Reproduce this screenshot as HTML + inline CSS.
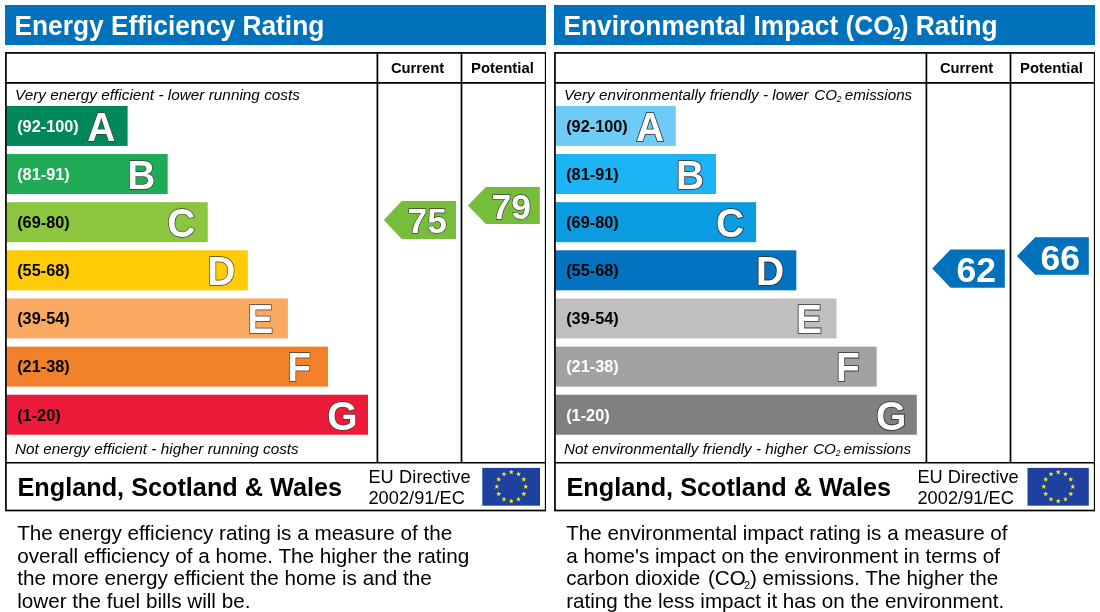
<!DOCTYPE html>
<html lang="en"><head><meta charset="utf-8"><title>Energy Performance Ratings</title>
<style>
html,body{margin:0;padding:0;background:#fff}
#root{position:relative;width:1100px;height:612px;overflow:hidden;background:#fff;font-family:"Liberation Sans", Arial, Helvetica, sans-serif;color:#000}
.panel{position:absolute;top:0;width:541px;height:612px}
.hdr{position:absolute;left:0;top:5px;width:541px;height:40px;background:#0072bc}
.g{position:absolute;left:0;top:0}
.t{position:absolute;line-height:1;white-space:nowrap;color:#000;font-variant-ligatures:none;font-kerning:normal}
.b{font-weight:bold}
.i{font-style:italic}
.w{color:#fff}
.L{color:#fff;-webkit-text-stroke:1.3px #3a3a3a;paint-order:stroke fill}
.N{color:#fff;-webkit-text-stroke:1.3px #3a3a3a;paint-order:stroke fill}
.N0{color:#fff}
.L2{color:#fff;-webkit-text-stroke:1.6px #2e2e2e;paint-order:stroke fill}
sub{vertical-align:baseline;position:relative;line-height:0}
.s1{font-size:58%;top:0.25em;margin:0 -1.35px 0 -1.15px}
.s2{font-size:56%;top:0.27em;margin:0 -1.1px 0 -0.3px}
.ic{margin-left:1.3px}
.s3{font-size:52%;top:0.4em;margin:0 -0.2px 0 -1.7px}
.pc{margin-left:1.9px}
</style></head><body>
<div id="root">
<div class="panel" style="left:5px">
<div class="hdr"></div>
<div class="t b w" style="left:9.50px;top:13.00px;font-size:26.3px;transform:scaleY(1.03);transform-origin:0 22px;">Energy Efficiency Rating</div>
<svg class="g" width="541" height="612" viewBox="0 0 541 612"><rect x="1.5" y="105.90" width="121.10" height="40" fill="#00875a"/><rect x="1.5" y="154.04" width="161.17" height="40" fill="#1fab55"/><rect x="1.5" y="202.18" width="201.24" height="40" fill="#8cc63f"/><rect x="1.5" y="250.32" width="241.31" height="40" fill="#ffcb05"/><rect x="1.5" y="298.46" width="281.38" height="40" fill="#faa961"/><rect x="1.5" y="346.60" width="321.45" height="40" fill="#f3812a"/><rect x="1.5" y="394.74" width="361.52" height="40" fill="#ed1b3a"/><polygon points="378.90,219.90 396.70,200.90 451.00,200.90 451.00,239.00 396.70,239.00" fill="#77bd3c"/><polygon points="462.85,205.50 480.80,186.90 534.80,186.90 534.80,224.10 480.80,224.10" fill="#77bd3c"/><g fill="none" stroke="#000" stroke-width="1.7"><rect x="0.95" y="52.9" width="539.75" height="457.6"/><line x1="0" y1="82.85" x2="541" y2="82.85"/><line x1="0" y1="462.75" x2="541" y2="462.75"/><line x1="372.4" y1="52" x2="372.4" y2="462.75"/><line x1="456.5" y1="52" x2="456.5" y2="462.75"/></g><rect x="477.3" y="467.9" width="57.7" height="37.8" fill="#1e41a0"/><polygon points="506.25,469.50 506.87,471.35 508.82,471.37 507.25,472.52 507.84,474.38 506.25,473.25 504.66,474.38 505.25,472.52 503.68,471.37 505.63,471.35" fill="#fff200"/><polygon points="513.50,471.44 514.12,473.29 516.07,473.31 514.50,474.47 515.09,476.33 513.50,475.19 511.91,476.33 512.50,474.47 510.93,473.31 512.88,473.29" fill="#fff200"/><polygon points="518.81,476.75 519.42,478.60 521.38,478.62 519.81,479.77 520.39,481.63 518.81,480.50 517.22,481.63 517.81,479.77 516.24,478.62 518.19,478.60" fill="#fff200"/><polygon points="520.75,484.00 521.37,485.85 523.32,485.87 521.75,487.02 522.34,488.88 520.75,487.75 519.16,488.88 519.75,487.02 518.18,485.87 520.13,485.85" fill="#fff200"/><polygon points="518.81,491.25 519.42,493.10 521.38,493.12 519.81,494.27 520.39,496.13 518.81,495.00 517.22,496.13 517.81,494.27 516.24,493.12 518.19,493.10" fill="#fff200"/><polygon points="513.50,496.56 514.12,498.41 516.07,498.42 514.50,499.58 515.09,501.44 513.50,500.31 511.91,501.44 512.50,499.58 510.93,498.42 512.88,498.41" fill="#fff200"/><polygon points="506.25,498.50 506.87,500.35 508.82,500.37 507.25,501.52 507.84,503.38 506.25,502.25 504.66,503.38 505.25,501.52 503.68,500.37 505.63,500.35" fill="#fff200"/><polygon points="499.00,496.56 499.62,498.41 501.57,498.42 500.00,499.58 500.59,501.44 499.00,500.31 497.41,501.44 498.00,499.58 496.43,498.42 498.38,498.41" fill="#fff200"/><polygon points="493.69,491.25 494.31,493.10 496.26,493.12 494.69,494.27 495.28,496.13 493.69,495.00 492.11,496.13 492.69,494.27 491.12,493.12 493.08,493.10" fill="#fff200"/><polygon points="491.75,484.00 492.37,485.85 494.32,485.87 492.75,487.02 493.34,488.88 491.75,487.75 490.16,488.88 490.75,487.02 489.18,485.87 491.13,485.85" fill="#fff200"/><polygon points="493.69,476.75 494.31,478.60 496.26,478.62 494.69,479.77 495.28,481.63 493.69,480.50 492.11,481.63 492.69,479.77 491.12,478.62 493.08,478.60" fill="#fff200"/><polygon points="499.00,471.44 499.62,473.29 501.57,473.31 500.00,474.47 500.59,476.33 499.00,475.19 497.41,476.33 498.00,474.47 496.43,473.31 498.38,473.29" fill="#fff200"/></svg>
<div class="t b" style="left:385.90px;top:61.00px;font-size:14.75px;transform:scaleY(1.03);transform-origin:0 12px;">Current</div>
<div class="t b" style="left:466.00px;top:61.00px;font-size:14.9px;transform:scaleY(1.03);transform-origin:0 12px;">Potential</div>
<div class="t i" style="left:10.00px;top:87.00px;font-size:15.3px;word-spacing:0.1px;">Very energy efficient - lower running costs</div>
<div class="t i" style="left:10.00px;top:441.00px;font-size:15.3px;word-spacing:0.1px;">Not energy efficient - higher running costs</div>
<div class="t b" style="left:12.20px;top:118.00px;font-size:16.3px;color:#fff">(92-100)</div>
<div class="t b L" style="left:82.20px;top:108.00px;font-size:39px;transform:scaleY(1.046);transform-origin:0 33px;">A</div>
<div class="t b" style="left:12.20px;top:166.00px;font-size:16.3px;color:#fff">(81-91)</div>
<div class="t b L" style="left:122.20px;top:156.00px;font-size:39px;transform:scaleY(1.046);transform-origin:0 33px;">B</div>
<div class="t b" style="left:12.20px;top:214.00px;font-size:16.3px;color:#000">(69-80)</div>
<div class="t b L" style="left:162.20px;top:204.00px;font-size:39px;transform:scaleY(1.046);transform-origin:0 33px;">C</div>
<div class="t b" style="left:12.20px;top:262.00px;font-size:16.3px;color:#000">(55-68)</div>
<div class="t b L" style="left:202.20px;top:252.00px;font-size:39px;transform:scaleY(1.046);transform-origin:0 33px;">D</div>
<div class="t b" style="left:12.20px;top:310.00px;font-size:16.3px;color:#000">(39-54)</div>
<div class="t b L" style="left:242.20px;top:300.00px;font-size:39px;transform:scaleY(1.046);transform-origin:0 33px;">E</div>
<div class="t b" style="left:12.20px;top:358.00px;font-size:16.3px;color:#000">(21-38)</div>
<div class="t b L" style="left:282.20px;top:348.00px;font-size:39px;transform:scaleY(1.046);transform-origin:0 33px;">F</div>
<div class="t b" style="left:12.20px;top:407.00px;font-size:16.3px;color:#000">(1-20)</div>
<div class="t b L" style="left:322.20px;top:397.00px;font-size:39px;transform:scaleY(1.046);transform-origin:0 33px;">G</div>
<div class="t b N" style="left:402.40px;top:204.00px;font-size:35.5px;transform:scaleY(0.97);transform-origin:0 29px;">75</div>
<div class="t b N" style="left:486.60px;top:190.00px;font-size:35.5px;transform:scaleY(0.97);transform-origin:0 29px;">79</div>
<div class="t b" style="left:12.50px;top:475.00px;font-size:25.25px;">England, Scotland &amp; Wales</div>
<div class="t " style="left:363.40px;top:468.00px;font-size:18.2px;letter-spacing:0.1px;">EU Directive</div>
<div class="t " style="left:363.40px;top:489.00px;font-size:18.2px;letter-spacing:0.05px;">2002/91/EC</div>
<div class="t " style="left:12.20px;top:523.00px;font-size:20.68px;">The energy efficiency rating is a measure of the</div>
<div class="t " style="left:12.20px;top:546.00px;font-size:20.68px;">overall efficiency of a home. The higher the rating</div>
<div class="t " style="left:12.20px;top:568.00px;font-size:20.68px;">the more energy efficient the home is and the</div>
<div class="t " style="left:12.20px;top:591.00px;font-size:20.68px;">lower the fuel bills will be.</div>
</div>
<div class="panel" style="left:554px">
<div class="hdr"></div>
<div class="t b w" style="left:9.50px;top:13.00px;font-size:26.3px;transform:scaleY(1.03);transform-origin:0 22px;">Environmental Impact (CO<sub class="s1">2</sub>) Rating</div>
<svg class="g" width="541" height="612" viewBox="0 0 541 612"><rect x="1.5" y="105.90" width="120.30" height="40" fill="#6ecbf6"/><rect x="1.5" y="154.04" width="160.47" height="40" fill="#1db4f5"/><rect x="1.5" y="202.18" width="200.64" height="40" fill="#0a9be1"/><rect x="1.5" y="250.32" width="240.81" height="40" fill="#0373c0"/><rect x="1.5" y="298.46" width="280.98" height="40" fill="#bfbfbf"/><rect x="1.5" y="346.60" width="321.15" height="40" fill="#a1a1a1"/><rect x="1.5" y="394.74" width="361.32" height="40" fill="#808080"/><polygon points="378.25,268.50 396.50,249.40 450.80,249.40 450.80,287.80 396.50,287.80" fill="#0072bc"/><polygon points="462.90,256.00 481.30,237.35 534.80,237.35 534.80,274.80 481.30,274.80" fill="#0072bc"/><g fill="none" stroke="#000" stroke-width="1.7"><rect x="0.95" y="52.9" width="539.75" height="457.6"/><line x1="0" y1="82.85" x2="541" y2="82.85"/><line x1="0" y1="462.75" x2="541" y2="462.75"/><line x1="372.4" y1="52" x2="372.4" y2="462.75"/><line x1="456.5" y1="52" x2="456.5" y2="462.75"/></g><rect x="473.5" y="467.9" width="61.3" height="37.8" fill="#1e41a0"/><polygon points="504.25,469.50 504.87,471.35 506.82,471.37 505.25,472.52 505.84,474.38 504.25,473.25 502.66,474.38 503.25,472.52 501.68,471.37 503.63,471.35" fill="#fff200"/><polygon points="511.50,471.44 512.12,473.29 514.07,473.31 512.50,474.47 513.09,476.33 511.50,475.19 509.91,476.33 510.50,474.47 508.93,473.31 510.88,473.29" fill="#fff200"/><polygon points="516.81,476.75 517.42,478.60 519.38,478.62 517.81,479.77 518.39,481.63 516.81,480.50 515.22,481.63 515.81,479.77 514.24,478.62 516.19,478.60" fill="#fff200"/><polygon points="518.75,484.00 519.37,485.85 521.32,485.87 519.75,487.02 520.34,488.88 518.75,487.75 517.16,488.88 517.75,487.02 516.18,485.87 518.13,485.85" fill="#fff200"/><polygon points="516.81,491.25 517.42,493.10 519.38,493.12 517.81,494.27 518.39,496.13 516.81,495.00 515.22,496.13 515.81,494.27 514.24,493.12 516.19,493.10" fill="#fff200"/><polygon points="511.50,496.56 512.12,498.41 514.07,498.42 512.50,499.58 513.09,501.44 511.50,500.31 509.91,501.44 510.50,499.58 508.93,498.42 510.88,498.41" fill="#fff200"/><polygon points="504.25,498.50 504.87,500.35 506.82,500.37 505.25,501.52 505.84,503.38 504.25,502.25 502.66,503.38 503.25,501.52 501.68,500.37 503.63,500.35" fill="#fff200"/><polygon points="497.00,496.56 497.62,498.41 499.57,498.42 498.00,499.58 498.59,501.44 497.00,500.31 495.41,501.44 496.00,499.58 494.43,498.42 496.38,498.41" fill="#fff200"/><polygon points="491.69,491.25 492.31,493.10 494.26,493.12 492.69,494.27 493.28,496.13 491.69,495.00 490.11,496.13 490.69,494.27 489.12,493.12 491.08,493.10" fill="#fff200"/><polygon points="489.75,484.00 490.37,485.85 492.32,485.87 490.75,487.02 491.34,488.88 489.75,487.75 488.16,488.88 488.75,487.02 487.18,485.87 489.13,485.85" fill="#fff200"/><polygon points="491.69,476.75 492.31,478.60 494.26,478.62 492.69,479.77 493.28,481.63 491.69,480.50 490.11,481.63 490.69,479.77 489.12,478.62 491.08,478.60" fill="#fff200"/><polygon points="497.00,471.44 497.62,473.29 499.57,473.31 498.00,474.47 498.59,476.33 497.00,475.19 495.41,476.33 496.00,474.47 494.43,473.31 496.38,473.29" fill="#fff200"/></svg>
<div class="t b" style="left:385.90px;top:61.00px;font-size:14.75px;transform:scaleY(1.03);transform-origin:0 12px;">Current</div>
<div class="t b" style="left:466.00px;top:61.00px;font-size:14.9px;transform:scaleY(1.03);transform-origin:0 12px;">Potential</div>
<div class="t i" style="left:10.00px;top:87.00px;font-size:15.2px;word-spacing:0.1px;">Very environmentally friendly - lower <span class="ic">CO</span><sub class="s2">2</sub> emissions</div>
<div class="t i" style="left:10.00px;top:441.00px;font-size:15.2px;word-spacing:0.1px;">Not environmentally friendly - higher <span class="ic">CO</span><sub class="s2">2</sub> emissions</div>
<div class="t b" style="left:12.20px;top:118.00px;font-size:16.3px;color:#000">(92-100)</div>
<div class="t b L2" style="left:82.10px;top:108.00px;font-size:39px;transform:scaleY(1.046);transform-origin:0 33px;">A</div>
<div class="t b" style="left:12.20px;top:166.00px;font-size:16.3px;color:#000">(81-91)</div>
<div class="t b L2" style="left:122.10px;top:156.00px;font-size:39px;transform:scaleY(1.046);transform-origin:0 33px;">B</div>
<div class="t b" style="left:12.20px;top:214.00px;font-size:16.3px;color:#000">(69-80)</div>
<div class="t b L2" style="left:162.10px;top:204.00px;font-size:39px;transform:scaleY(1.046);transform-origin:0 33px;">C</div>
<div class="t b" style="left:12.20px;top:262.00px;font-size:16.3px;color:#000">(55-68)</div>
<div class="t b L2" style="left:202.10px;top:252.00px;font-size:39px;transform:scaleY(1.046);transform-origin:0 33px;">D</div>
<div class="t b" style="left:12.20px;top:310.00px;font-size:16.3px;color:#000">(39-54)</div>
<div class="t b L2" style="left:242.10px;top:300.00px;font-size:39px;transform:scaleY(1.046);transform-origin:0 33px;">E</div>
<div class="t b" style="left:12.20px;top:358.00px;font-size:16.3px;color:#fff">(21-38)</div>
<div class="t b L2" style="left:282.10px;top:348.00px;font-size:39px;transform:scaleY(1.046);transform-origin:0 33px;">F</div>
<div class="t b" style="left:12.20px;top:407.00px;font-size:16.3px;color:#fff">(1-20)</div>
<div class="t b L2" style="left:322.10px;top:397.00px;font-size:39px;transform:scaleY(1.046);transform-origin:0 33px;">G</div>
<div class="t b N0" style="left:402.50px;top:253.00px;font-size:35.5px;">62</div>
<div class="t b N0" style="left:486.60px;top:241.00px;font-size:35.5px;">66</div>
<div class="t b" style="left:12.50px;top:475.00px;font-size:25.25px;">England, Scotland &amp; Wales</div>
<div class="t " style="left:363.40px;top:468.00px;font-size:18.2px;letter-spacing:0.02px;">EU Directive</div>
<div class="t " style="left:363.40px;top:489.00px;font-size:18.2px;letter-spacing:0.05px;">2002/91/EC</div>
<div class="t " style="left:12.20px;top:523.00px;font-size:20.63px;">The environmental impact rating is a measure of</div>
<div class="t " style="left:12.20px;top:546.00px;font-size:20.63px;">a home's impact on the environment in terms of</div>
<div class="t " style="left:12.20px;top:568.00px;font-size:20.63px;">carbon dioxide <span class="pc">(CO</span><sub class="s3">2</sub>) emissions. The higher the</div>
<div class="t " style="left:12.20px;top:591.00px;font-size:20.63px;">rating the less impact it has on the environment.</div>
</div>
</div>
</body></html>
